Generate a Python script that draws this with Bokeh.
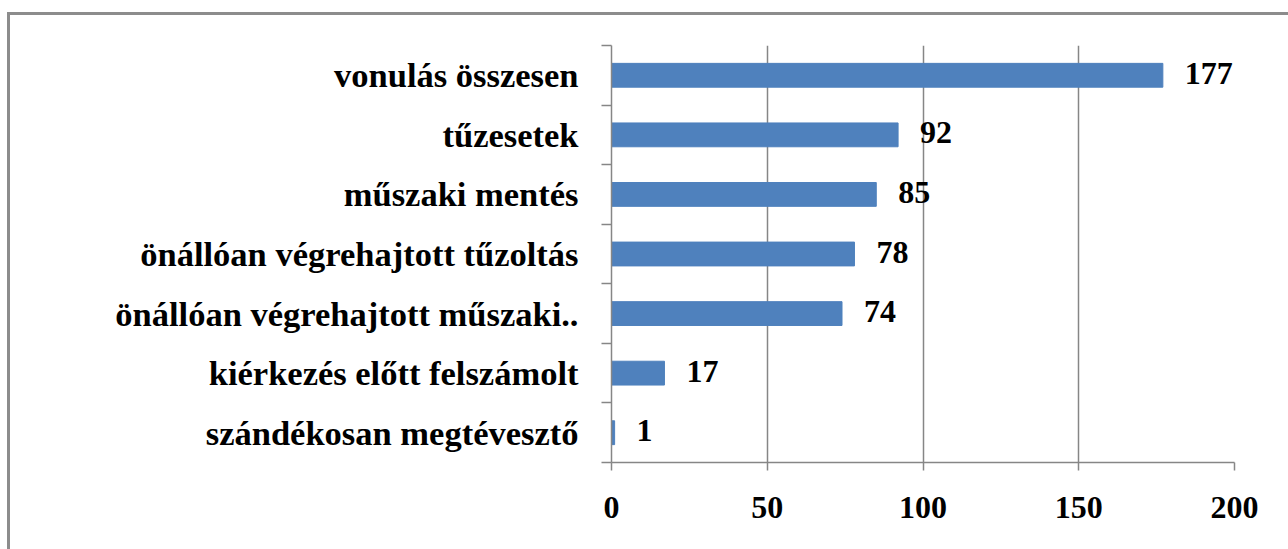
from bokeh.plotting import figure
from bokeh.models import Range1d, FixedTicker, ColumnDataSource, LabelSet
from bokeh.embed import file_html
from bokeh.resources import INLINE

categories = [
    "vonulás összesen",
    "tűzesetek",
    "műszaki mentés",
    "önállóan végrehajtott tűzoltás",
    "önállóan végrehajtott műszaki..",
    "kiérkezés előtt felszámolt",
    "szándékosan megtévesztő",
]
values = [177, 92, 85, 78, 74, 17, 1]
x_ticks = [0, 50, 100, 150, 200]

idx = list(range(len(categories)))
src = ColumnDataSource(dict(y=idx, v=values, lab=[str(v) for v in values]))

FONT = "Liberation Serif"
GRAY = "#868686"

p = figure(width=1288, height=549, output_backend="svg", toolbar_location=None,
           x_range=Range1d(0, 200), y_range=Range1d(len(categories) - 0.5, -0.5),
           min_border_left=611, min_border_right=54, min_border_top=45, min_border_bottom=87)
p.border_fill_color = None
p.outline_line_color = None
p.background_fill_color = "white"
p.styles = {
    "background-image": "linear-gradient(#8c8c8c,#8c8c8c), linear-gradient(#8c8c8c,#8c8c8c)",
    "background-position": "7px 12px, 7px 12px",
    "background-size": "3px 100%, 100% 3px",
    "background-repeat": "no-repeat",
}

p.hbar(y="y", right="v", left=0, height=0.4, source=src,
       fill_color="#4f81bd", line_color="#4f81bd", line_width=1)

labels = LabelSet(x="v", y="y", text="lab", source=src, x_offset=22, y_offset=2,
                  text_baseline="middle", text_align="left",
                  text_font=FONT, text_font_style="bold", text_font_size="32px",
                  text_color="black")
p.add_layout(labels)

# x axis
p.xaxis.ticker = FixedTicker(ticks=x_ticks)
p.xaxis.axis_line_color = GRAY
p.xaxis.axis_line_width = 1.5
p.xaxis.major_tick_line_color = GRAY
p.xaxis.major_tick_line_width = 1.5
p.xaxis.major_tick_out = 8
p.xaxis.major_tick_in = 0
p.xaxis.minor_tick_line_color = None
p.xaxis.major_label_text_font = FONT
p.xaxis.major_label_text_font_style = "bold"
p.xaxis.major_label_text_font_size = "32px"
p.xaxis.major_label_text_color = "black"
p.xaxis.major_label_standoff = 26

# y axis
p.yaxis.ticker = FixedTicker(ticks=idx, minor_ticks=[i - 0.5 for i in range(len(categories) + 1)])
p.yaxis.major_label_overrides = {i: c for i, c in enumerate(categories)}
p.yaxis.axis_line_color = GRAY
p.yaxis.axis_line_width = 1.5
p.yaxis.major_tick_line_color = None
p.yaxis.major_tick_out = 0
p.yaxis.major_tick_in = 0
p.yaxis.minor_tick_line_color = GRAY
p.yaxis.minor_tick_line_width = 1.5
p.yaxis.minor_tick_out = 10
p.yaxis.minor_tick_in = 0
p.yaxis.major_label_text_font = FONT
p.yaxis.major_label_text_font_style = "bold"
p.yaxis.major_label_text_font_size = "34.5px"
p.yaxis.major_label_text_color = "black"
p.yaxis.major_label_standoff = 23

p.ygrid.grid_line_color = None
p.xgrid.grid_line_color = GRAY
p.xgrid.grid_line_width = 1.5

open("out.html", "w").write(file_html(p, INLINE))
